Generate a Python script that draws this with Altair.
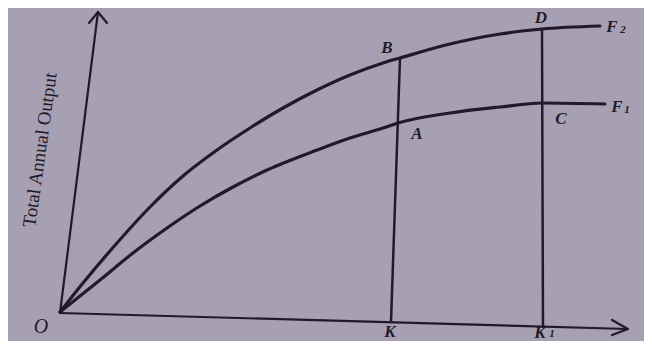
import altair as alt
import pandas as pd

# ---- data (units: origin O at 0,0) ----
f2_x = [0, 23, 57, 90, 123, 157, 190, 223, 257, 290, 323, 340, 390, 440, 482, 540]
f2_y = [1, 30, 70, 106, 137, 163, 185, 205, 223, 238, 250, 255, 269, 279, 284, 287]
f1_x = [0, 40, 73, 107, 140, 173, 207, 257, 290, 323, 338, 390, 440, 482, 545]
f1_y = [1, 33, 60, 85, 107, 126, 143, 163, 175, 185, 190, 200, 206, 210, 209]

k_x = [340, 331]
k_y = [255, -9]
k1_x = [482, 483]
k1_y = [284, -14]

xaxis_x = [0, 568]
xaxis_y = [0, -16]
xhead_x = [552, 568, 552]
xhead_y = [-7, -16, -22]
yaxis_x = [0, 38]
yaxis_y = [0, 301]
yhead_x = [29, 38, 47]
yhead_y = [290, 301, 290]

pt_labels = ["B", "A", "C", "D", "K", "K", "F", "F"]
pt_x = [327, 357, 501, 481, 330, 480, 552, 557]
pt_y = [265, 179, 194, 295, -19, -20, 286, 206]
sub_labels = ["1", "2", "1"]
sub_x = [492, 563, 567]
sub_y = [-21, 283, 203]
o_label = ["O"]
o_x = [-19]
o_y = [-14]
ylab = ["Total Annual Output"]
ylab_x = [-20]
ylab_y = [163]

INK = "#221a29"
BG = "#a7a0b3"
FONT = "Liberation Serif"
W, H = 636, 333
xs = alt.Scale(domain=[-52, 584], nice=False, zero=False)
ys = alt.Scale(domain=[-28, 305], nice=False, zero=False)


def seg_df(name, xv, yv):
    return pd.DataFrame({"series": name, "ord": list(range(len(xv))), "x": xv, "y": yv})


curves = pd.concat([seg_df("F2", f2_x, f2_y), seg_df("F1", f1_x, f1_y)])
verts = pd.concat([seg_df("K", k_x, k_y), seg_df("K1", k1_x, k1_y)])
axes = pd.concat([
    seg_df("xa", xaxis_x, xaxis_y), seg_df("xh", xhead_x, xhead_y),
    seg_df("ya", yaxis_x, yaxis_y), seg_df("yh", yhead_x, yhead_y),
])


def lines(df, sw, interp):
    return alt.Chart(df).mark_line(
        color=INK, strokeWidth=sw, interpolate=interp, strokeCap="round", strokeJoin="round"
    ).encode(
        x=alt.X("x:Q", scale=xs, axis=None),
        y=alt.Y("y:Q", scale=ys, axis=None),
        detail="series:N",
        order="ord:Q",
    )


def texts(lbl, xv, yv, size, style, weight, angle=0):
    df = pd.DataFrame({"t": lbl, "x": xv, "y": yv})
    return alt.Chart(df).mark_text(
        font=FONT, fontSize=size, fontStyle=style, fontWeight=weight,
        color=INK, align="center", baseline="middle", angle=angle,
    ).encode(
        x=alt.X("x:Q", scale=xs, axis=None),
        y=alt.Y("y:Q", scale=ys, axis=None),
        text="t:N",
    )


chart = alt.layer(
    lines(axes, 2.2, "linear"),
    lines(verts, 2.5, "linear"),
    lines(curves, 3.2, "monotone"),
    texts(pt_labels, pt_x, pt_y, 17, "italic", "bold"),
    texts(sub_labels, sub_x, sub_y, 11, "italic", "bold"),
    texts(o_label, o_x, o_y, 20, "italic", "normal"),
    texts(ylab, ylab_x, ylab_y, 19, "normal", "normal", angle=278),
).properties(
    width=W, height=H, background=BG, padding=0,
    autosize=alt.AutoSizeParams(type="none"),
).configure_view(stroke=None)

chart.save("out.html", embed_options={"renderer": "svg", "actions": False})
